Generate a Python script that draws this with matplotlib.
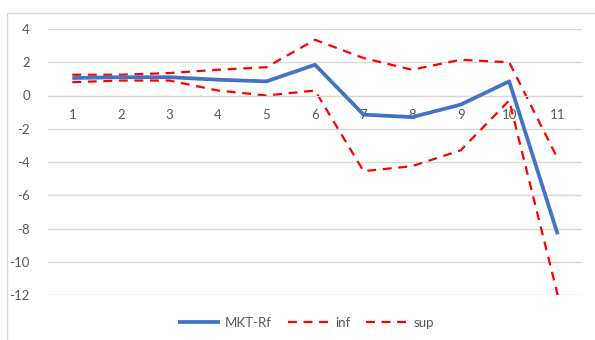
"""
MKT-Rf avec bornes inf / sup
"""

import matplotlib.pyplot as plt
from matplotlib.patches import Rectangle

x_labels = ["1", "2", "3", "4", "5", "6", "7", "8", "9", "10", "11"]
mkt_rf = [1.05, 1.1, 1.1, 0.95, 0.85, 1.85, -1.15, -1.3, -0.55, 0.85, -8.35]
inf = [0.8, 0.9, 0.9, 0.3, 0.0, 0.3, -4.55, -4.25, -3.3, -0.3, -12.0]
sup = [1.25, 1.25, 1.35, 1.55, 1.7, 3.35, 2.25, 1.55, 2.15, 2.0, -3.8]
y_ticks = [4, 2, 0, -2, -4, -6, -8, -10, -12]

GRID = "#d9d9d9"
TXT = "#595959"

plt.rcParams["font.family"] = ["Lato", "DejaVu Sans"]
plt.rcParams["axes.unicode_minus"] = False

fig = plt.figure(figsize=(5.95, 3.4), dpi=100)
ax = fig.add_axes([48 / 595, 1 - 295 / 340, 534 / 595, 266 / 340])

xs = list(range(1, len(x_labels) + 1))
ax.plot(xs, mkt_rf, color="#4472c4", lw=2.7, label="MKT-Rf", solid_capstyle="butt", zorder=3)
ax.plot(xs, inf, color="#ff0000", lw=1.6, ls=(0, (4, 3)), label="inf", zorder=2)
ax.plot(xs, sup, color="#ff0000", lw=1.6, ls=(0, (4, 3)), label="sup", zorder=2)

ax.set_xlim(0.5, len(x_labels) + 0.5)
ax.set_ylim(-12, 4)
ax.set_yticks(y_ticks)
ax.set_xticks(xs)
ax.set_xticklabels(x_labels)
ax.yaxis.grid(True, color=GRID, lw=1)
ax.set_axisbelow(True)

for s in ["top", "right", "left"]:
    ax.spines[s].set_visible(False)
ax.spines["bottom"].set_position(("data", 0))
ax.spines["bottom"].set_color(GRID)
ax.tick_params(axis="x", length=0, pad=10, labelsize=9.5, labelcolor=TXT)
ax.tick_params(axis="y", length=0, pad=13, labelsize=9.5, labelcolor=TXT)

fig.legend(loc="center", bbox_to_anchor=(306 / 595, 1 - 323 / 340), ncol=3,
           frameon=False, fontsize=9.5, labelcolor=TXT, handlelength=3.2,
           handletextpad=0.4, columnspacing=1.2)

# cadre du graphique
fig.patches.append(Rectangle((7 / 595, -0.1), 1.0, 1 - 13 / 340 + 0.1,
                             transform=fig.transFigure, fill=False,
                             edgecolor=GRID, lw=1))

fig.savefig("out.png", dpi=100)
